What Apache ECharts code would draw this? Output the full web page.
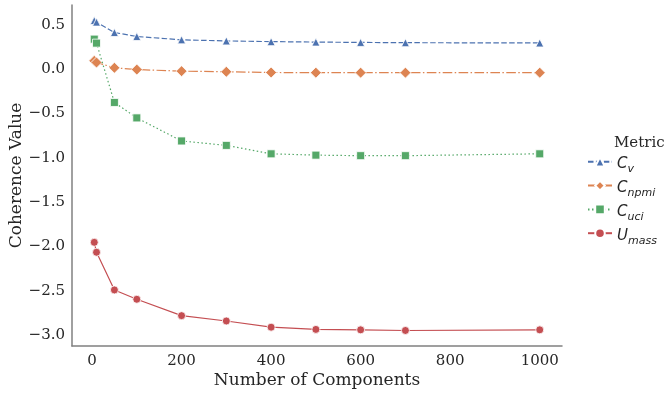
<!DOCTYPE html>
<html><head><meta charset="utf-8">
<script src="https://cdn.jsdelivr.net/npm/echarts@6/dist/echarts.min.js"></script>
<style>html,body{margin:0;padding:0;background:#fff}#c{width:664px;height:394px}</style>
</head><body><div id="c"></div>
<script>
const components = [5, 10, 50, 100, 200, 300, 400, 500, 600, 700, 1000];
const cv    = [0.548, 0.53, 0.413, 0.368, 0.33, 0.318, 0.31, 0.305, 0.301, 0.298, 0.295];
const cnpmi = [0.093, 0.075, 0.015, -0.005, -0.023, -0.03, -0.038, -0.04, -0.04, -0.04, -0.04];
const cuci  = [0.338, 0.293, -0.376, -0.55, -0.81, -0.86, -0.955, -0.97, -0.976, -0.976, -0.955];
const umass = [-1.953, -2.065, -2.49, -2.595, -2.78, -2.84, -2.91, -2.935, -2.94, -2.947, -2.94];
const xTicks = [0, 200, 400, 600, 800, 1000];
const yTicks = [-3.0, -2.5, -2.0, -1.5, -1.0, -0.5, 0.0, 0.5];
const names = ['Cv', 'Cnpmi', 'Cuci', 'Umass'];
const colors = ['#4C72B0', '#DD8452', '#55A868', '#C44E52'];
const symbols = ['triangle', 'diamond', 'rect', 'circle'];
const symbolSizes = [8, 11, 8, 8];
const dashes = [[5.5, 2.4], [9.6, 2.4, 1.5, 2.4], [1.5, 2.5], 'solid'];
const values = [cv, cnpmi, cuci, umass];

const serif = '"DejaVu Serif", serif';
const chart = echarts.init(document.getElementById('c'));
const fmt = v => (Math.abs(v) < 1e-9 ? '0.0' : v.toFixed(1).replace('-', '\u2212'));
chart.setOption({
  animation: false,
  backgroundColor: '#fff',
  grid: { left: 72, right: 102, top: 5, bottom: 48, containLabel: false, outerBoundsMode: 'none' },
  title: { text: 'Metric', left: 609, top: 131, textStyle: { fontFamily: serif, fontSize: 15, fontWeight: 'normal', color: '#262626' } },
  legend: {
    orient: 'vertical', left: 582, top: 151, itemWidth: 24, itemHeight: 12, itemGap: 5,
    data: names,
    formatter: n => '{m|' + n[0] + '}{s|' + n.slice(1) + '}',
    textStyle: {
      color: '#262626',
      rich: {
        m: { fontFamily: '"DejaVu Sans"', fontStyle: 'italic', fontSize: 15, color: '#262626', verticalAlign: 'bottom', lineHeight: 20 },
        s: { fontFamily: '"DejaVu Sans"', fontStyle: 'italic', fontSize: 11, color: '#262626', verticalAlign: 'bottom', lineHeight: 14, padding: [0, 0, -3, 0] }
      }
    }
  },
  xAxis: {
    type: 'value', min: -44.75, max: 1049.75,
    name: 'Number of Components', nameLocation: 'middle', nameGap: 26, nameMoveOverlap: false,
    nameTextStyle: { fontFamily: serif, fontSize: 17, color: '#262626' },
    axisLine: { show: true, onZero: false, lineStyle: { color: '#808080', width: 1.5 } },
    axisTick: { show: false }, splitLine: { show: false },
    axisLabel: { customValues: xTicks, formatter: v => String(v), fontFamily: serif, fontSize: 15, color: '#262626', margin: 8 }
  },
  yAxis: {
    type: 'value', min: -3.122, max: 0.723,
    name: 'Coherence Value', nameLocation: 'middle', nameGap: 47, nameRotate: 90, nameMoveOverlap: false,
    nameTextStyle: { fontFamily: serif, fontSize: 17, color: '#262626' },
    axisLine: { show: true, onZero: false, lineStyle: { color: '#808080', width: 1.5 } },
    axisTick: { show: false }, splitLine: { show: false },
    axisLabel: { customValues: yTicks, formatter: fmt, fontFamily: serif, fontSize: 15, color: '#262626', margin: 7 }
  },
  series: names.map((n, i) => ({
    name: n, type: 'line',
    data: components.map((x, j) => [x, values[i][j]]),
    symbol: symbols[i], symbolSize: symbolSizes[i], showAllSymbol: true,
    itemStyle: { color: colors[i], borderColor: '#fff', borderWidth: 0.8 },
    lineStyle: { color: colors[i], width: 1.2, type: dashes[i] },
    z: 2 + i
  }))
});
</script></body></html>
